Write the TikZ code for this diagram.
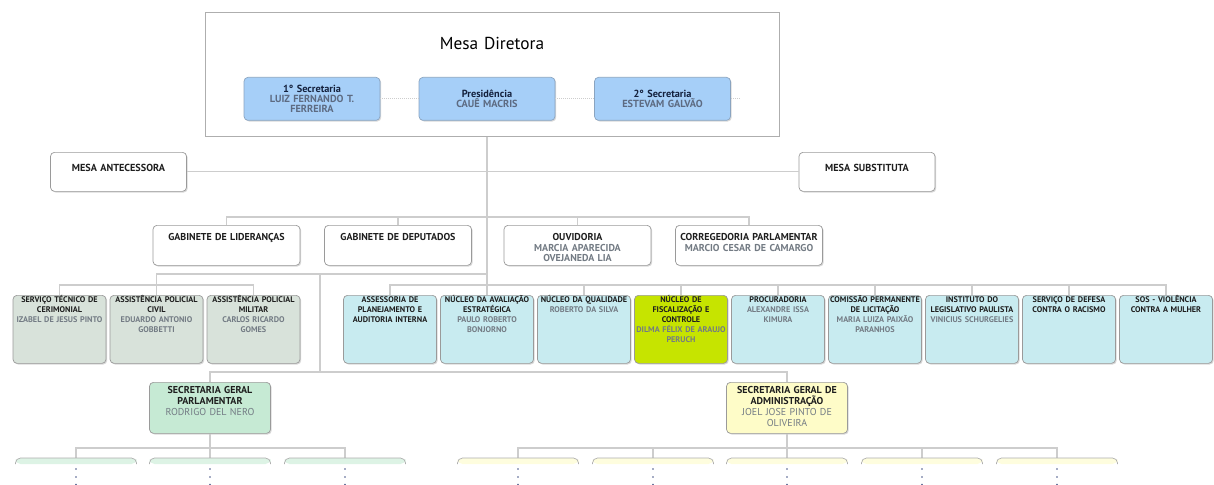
\documentclass[tikz,border=0pt]{standalone}
\usepackage{fontspec}
\setmainfont{PT Sans}
\usepackage{xcolor}
\usepackage{tikz}
\usetikzlibrary{shadows}

\definecolor{linegray}{HTML}{CDCDCD}
\definecolor{boxline}{HTML}{9A9A9A}
\definecolor{titletext}{HTML}{1E1E1E}
\definecolor{namegray}{HTML}{737B84}
\definecolor{secblue}{HTML}{A6CFF8}
\definecolor{secblueline}{HTML}{8AA4C0}
\definecolor{secbluetext}{HTML}{14213D}
\definecolor{secbluename}{HTML}{5D6B82}
\definecolor{cyanfill}{HTML}{C8EBF0}
\definecolor{sagefill}{HTML}{D8E2DA}
\definecolor{limefill}{HTML}{C6E400}
\definecolor{sgpfill}{HTML}{C6EAD4}
\definecolor{sgafill}{HTML}{FEFCC8}
\definecolor{dotblue}{HTML}{4A5A8A}

\newcommand{\nome}[1]{{\color{namegray}#1}}

\tikzset{
  conn/.style={draw=linegray, line width=1.1pt},
  dotconn/.style={draw=linegray, line width=1pt, dash pattern=on 1pt off 1pt},
  orgbox/.style={draw=boxline, line width=0.7pt, rounded corners=4pt, anchor=north,
    align=center, inner xsep=0pt, inner ysep=0pt, text=titletext,
    drop shadow={shadow xshift=1.2pt, shadow yshift=-1.2pt, fill=black!30}},
  mesabox/.style={orgbox, fill=white, text width=136pt, text height=19.5pt,
    text depth=19.5pt, font=\fontsize{10.2}{12}\selectfont\bfseries},
  gabbox/.style={orgbox, fill=white, text width=147pt, text height=15.5pt,
    text depth=24.5pt, font=\fontsize{10}{10.5}\selectfont\bfseries},
  secbox/.style={orgbox, fill=secblue, draw=secblueline, text=secbluetext,
    text width=136pt, minimum height=43pt,
    font=\fontsize{10.3}{10}\selectfont\bfseries},
  unitbox/.style={orgbox, text width=93pt, text height=7.5pt, text depth=60.5pt,
    font=\fontsize{8.2}{10}\selectfont\bfseries},
  sgbox/.style={orgbox, text width=121pt, text height=11pt, text depth=40pt,
    font=\fontsize{10}{11}\selectfont\bfseries},
}

\begin{document}
\begin{tikzpicture}[x=1pt,y=-1pt]
\useasboundingbox (0,0) rectangle (1214,484);
\clip (0,0) rectangle (1214,484);

% mesa diretora
\node[draw=boxline!80, line width=0.7pt, anchor=north, text width=572pt, align=center,
  inner sep=1pt, text height=36pt, text depth=86pt,
  font=\fontsize{17.3}{19}\selectfont] (mesa) at (492,12) {Mesa Diretora};
\node[secbox] (sec1) at (312,77) {1° Secretaria\\{\color{secbluename}LUIZ FERNANDO T.}\\{\color{secbluename}FERREIRA}};
\node[secbox] (pres) at (487,77) {Presidência\\{\color{secbluename}CAUÊ MACRIS}};
\node[secbox] (sec2) at (662.5,77) {2° Secretaria\\{\color{secbluename}ESTEVAM GALVÃO}};
\draw[dotconn] (sec1.east) -- (pres.west);
\draw[dotconn] (pres.east) -- (sec2.west);
\draw[dotconn] (sec2.east) -- ++(10,0);

% mesas
\node[mesabox] (ante) at (118.5,152) {MESA ANTECESSORA};
\node[mesabox] (subst) at (867,152) {MESA SUBSTITUTA};

% gabinetes
\node[gabbox] (lider) at (226.5,225) {GABINETE DE LIDERANÇAS};
\node[gabbox] (deput) at (398,225) {GABINETE DE DEPUTADOS};
\node[gabbox] (ouvid) at (577.5,225) {OUVIDORIA\\\nome{MARCIA APARECIDA}\\\nome{OVEJANEDA LIA}};
\node[gabbox] (correg) at (749,225) {CORREGEDORIA PARLAMENTAR\\\nome{MARCIO CESAR DE CAMARGO}};

% unidades
\node[unitbox, fill=sagefill] (cerim) at (59.5,295) {SERVIÇO TÉCNICO DE\\CERIMONIAL\\\nome{IZABEL DE JESUS PINTO}};
\node[unitbox, fill=sagefill] (civil) at (156.5,295) {ASSISTÊNCIA POLICIAL\\CIVIL\\\nome{EDUARDO ANTONIO}\\\nome{GOBBETTI}};
\node[unitbox, fill=sagefill] (militar) at (253.5,295) {ASSISTÊNCIA POLICIAL\\MILITAR\\\nome{CARLOS RICARDO}\\\nome{GOMES}};

\node[unitbox, fill=cyanfill] (assess) at (390,295) {ASSESSORIA DE\\PLANEJAMENTO E\\AUDITORIA INTERNA};
\node[unitbox, fill=cyanfill] (avali) at (487,295) {NÚCLEO DA AVALIAÇÃO\\ESTRATÉGICA\\\nome{PAULO ROBERTO}\\\nome{BONJORNO}};
\node[unitbox, fill=cyanfill] (qualid) at (584,295) {NÚCLEO DA QUALIDADE\\\nome{ROBERTO DA SILVA}};
\node[unitbox, fill=limefill] (fiscal) at (681,295) {NÚCLEO DE\\FISCALIZAÇÃO E\\CONTROLE\\\nome{DILMA FÉLIX DE ARAUJO}\\\nome{PERUCH}};
\node[unitbox, fill=cyanfill] (procur) at (778,295) {PROCURADORIA\\\nome{ALEXANDRE ISSA}\\\nome{KIMURA}};
\node[unitbox, fill=cyanfill] (comiss) at (875,295) {COMISSÃO PERMANENTE\\DE LICITAÇÃO\\\nome{MARIA LUIZA PAIXÃO}\\\nome{PARANHOS}};
\node[unitbox, fill=cyanfill] (instit) at (972,295) {INSTITUTO DO\\LEGISLATIVO PAULISTA\\\nome{VINICIUS SCHURGELIES}};
\node[unitbox, fill=cyanfill] (defesa) at (1069,295) {SERVIÇO DE DEFESA\\CONTRA O RACISMO};
\node[unitbox, fill=cyanfill] (sos) at (1166,295) {SOS - VIOLÊNCIA\\CONTRA A MULHER};

% secretarias gerais
\node[sgbox, fill=sgpfill] (sgp) at (210,382) {SECRETARIA GERAL\\PARLAMENTAR\\{\mdseries\nome{RODRIGO DEL NERO}}};
\node[sgbox, fill=sgafill] (sga) at (787,382) {SECRETARIA GERAL DE\\ADMINISTRAÇÃO\\{\mdseries\nome{JOEL JOSE PINTO DE}}\\{\mdseries\nome{OLIVEIRA}}};

% ligacoes
\coordinate (bus2) at (487,217);
\coordinate (leftbus) at (487,274);
\coordinate (sgjoin) at (320,274);
\coordinate (sgbus) at (320,372);
\draw[conn] (mesa.south -| pres) -- (avali.north);
\draw[conn] (ante.east) -- (subst.west);
\draw[conn] (lider.north) |- (bus2) -| (correg.north);
\foreach \n in {deput,ouvid} \draw[conn] (\n.north) -- (\n.north |- bus2);
\draw[conn] (leftbus) -| (civil.north);
\draw[conn] (cerim.north) -- ++(0,-10) -| (militar.north);
\draw[conn] (assess.north) -- ++(0,-10) -| (sos.north);
\foreach \n in {qualid,fiscal,procur,comiss,instit,defesa} \draw[conn] (\n.north) -- ++(0,-10);
\draw[conn] (sgjoin) -- (sgbus);
\draw[conn] (sgp.north) |- (sgbus) -| (sga.north);

% niveis seguintes (cortados)
\coordinate (pg1) at (76,458);
\coordinate (pg2) at (210,458);
\coordinate (pg3) at (345,458);
\coordinate (pa1) at (518,458);
\coordinate (pa2) at (653,458);
\coordinate (pa3) at (787,458);
\coordinate (pa4) at (922,458);
\coordinate (pa5) at (1057,458);
\draw[conn] (sgp.south) -- (pg2);
\draw[conn] (pg1) -- ++(0,-10) -| (pg3);
\draw[conn] (sga.south) -- (pa3);
\draw[conn] (pa1) -- ++(0,-10) -| (pa5);
\foreach \n in {pa2,pa4} \draw[conn] (\n) -- ++(0,-10);
\foreach \n/\c in {pg1/sgpfill,pg2/sgpfill,pg3/sgpfill,pa1/sgafill,pa2/sgafill,pa3/sgafill,pa4/sgafill,pa5/sgafill}{
  \fill[\c!60, rounded corners=5pt] ([shift={(-60.5,6)}]\n) -- ([xshift=-60.5pt]\n) -- ([xshift=60.5pt]\n) -- ([shift={(60.5,6)}]\n) -- cycle;
  \draw[boxline!80, line width=0.7pt, rounded corners=5pt] ([shift={(-60.5,6)}]\n) -- ([xshift=-60.5pt]\n) -- ([xshift=60.5pt]\n) -- ([shift={(60.5,6)}]\n);
  \foreach \d in {11,19,26.5} \fill[dotblue] ([yshift=-\d pt]\n) circle (0.9pt);
}
\end{tikzpicture}
\end{document}
